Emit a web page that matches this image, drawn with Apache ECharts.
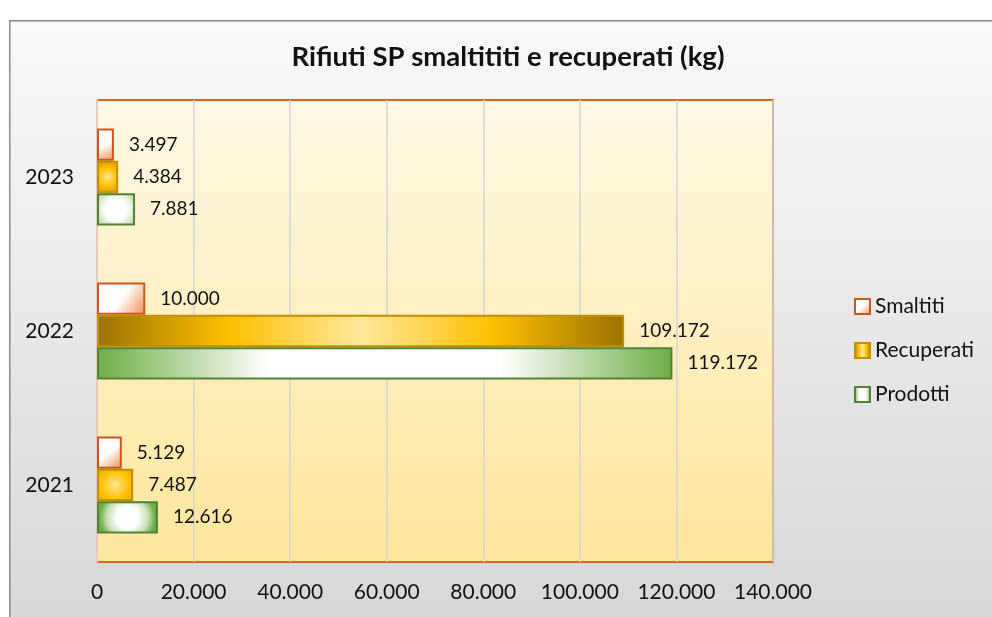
<!DOCTYPE html>
<html>
<head>
<meta charset="utf-8">
<script src="https://cdn.jsdelivr.net/npm/echarts@6/dist/echarts.min.js"></script>
<style>html,body{margin:0;padding:0;background:#fff;}#c{width:992px;height:617px;}</style>
</head>
<body>
<div id="c"></div>
<script>
var titleText = 'Rifiuti SP smaltititi e recuperati (kg)';
var categories = ['2021', '2022', '2023'];
var seriesNames = ['Smaltiti', 'Recuperati', 'Prodotti'];
var smaltiti = [5129, 10000, 3497];
var recuperati = [7487, 109172, 4384];
var prodotti = [12616, 119172, 7881];
var xTicks = [0, 20000, 40000, 60000, 80000, 100000, 120000, 140000];

function fmt(v) { return String(v).replace(/\B(?=(\d{3})+(?!\d))/g, '.'); }
var FONT = 'Lato';

var chart = echarts.init(document.getElementById('c'), null, {renderer: 'canvas'});

function lin(x2, y2, stops) {
  return {type: 'linear', x: 0, y: 0, x2: x2, y2: y2, colorStops: stops.map(function (s) { return {offset: s[0], color: s[1]}; })};
}
function rad(r, stops) {
  return {type: 'radial', x: 0.5, y: 0.5, r: r, colorStops: stops.map(function (s) { return {offset: s[0], color: s[1]}; })};
}

var styles = {
  'Smaltiti': {color: lin(1, 1, [[0, '#ffffff'], [0.5, '#ffffff'], [1, '#ef8a4c']]), borderColor: '#c9581a', borderWidth: 2},
  'Recuperati': {color: lin(1, 0, [[0, '#9a7200'], [0.25, '#ffc000'], [0.5, '#ffe89c'], [0.75, '#ffc000'], [1, '#9a7200']]), borderColor: '#bf9000', borderWidth: 2},
  'Prodotti': {color: lin(1, 0, [[0, '#70ad47'], [0.3, '#ffffff'], [0.7, '#ffffff'], [1, '#70ad47']]), borderColor: '#548235', borderWidth: 2}
};
// short bars look like a centred (rectangular) gradient in the original
var shortStyles = {
  'Recuperati': {color: rad(0.75, [[0, '#ffe99e'], [0.25, '#ffd54f'], [0.6, '#ffc000'], [1, '#d8a500']])},
  'Prodotti': {color: rad(0.85, [[0, '#ffffff'], [0.4, '#ffffff'], [0.75, '#c5e0b4'], [1, '#70ad47']])}
};
var dataMap = {'Smaltiti': smaltiti, 'Recuperati': recuperati, 'Prodotti': prodotti};

var series = seriesNames.map(function (n) {
  return {
    name: n, type: 'bar',
    data: dataMap[n].map(function (v) {
      return (shortStyles[n] && v < 20000) ? {value: v, itemStyle: shortStyles[n]} : v;
    }),
    barGap: '0%', barCategoryGap: '37%',
    itemStyle: styles[n],
    label: {show: true, position: 'right', distance: 15, fontFamily: FONT, fontSize: 19, color: '#111',
      formatter: function (p) { return fmt(p.value); }}
  };
});

chart.setOption({
  animation: false,
  backgroundColor: '#ffffff',
  graphic: [{
    type: 'rect', left: 9, top: 20, z: -10,
    shape: {width: 1000, height: 620},
    style: {fill: lin(0, 1, [[0, '#f9f9f9'], [1, '#d6d6d6']]), stroke: '#8a8a8a', lineWidth: 1.5}
  }],
  title: {
    text: titleText, left: 503, top: 38, textAlign: 'center',
    textStyle: {fontFamily: FONT, fontWeight: 'bold', fontSize: 27.5, color: '#111'}
  },
  legend: {
    orient: 'vertical', left: 849, top: 291, itemWidth: 15, itemHeight: 15, itemGap: 23,
    icon: 'rect',
    data: seriesNames,
    textStyle: {fontFamily: FONT, fontSize: 21, color: '#111'}
  },
  grid: {
    left: 97, right: 219, top: 100, bottom: 55, show: true,
    backgroundColor: lin(0, 1, [[0, '#fff8e6'], [1, '#ffe69b']]),
    borderColor: '#d9661f', borderWidth: 2
  },
  xAxis: {
    type: 'value', min: 0, max: 140000, interval: 20000,
    axisLine: {show: false}, axisTick: {show: false},
    splitLine: {show: true, lineStyle: {color: '#d4d4d4', width: 1.5}},
    axisLabel: {fontFamily: FONT, fontSize: 21, color: '#111', margin: 20, formatter: function (v) { return fmt(v); }}
  },
  yAxis: {
    type: 'category', data: categories,
    axisLine: {show: true, lineStyle: {color: '#e3cbbf', width: 2}},
    axisTick: {show: false},
    axisLabel: {fontFamily: FONT, fontSize: 21, color: '#111', margin: 23}
  },
  series: series
});
</script>
</body>
</html>
